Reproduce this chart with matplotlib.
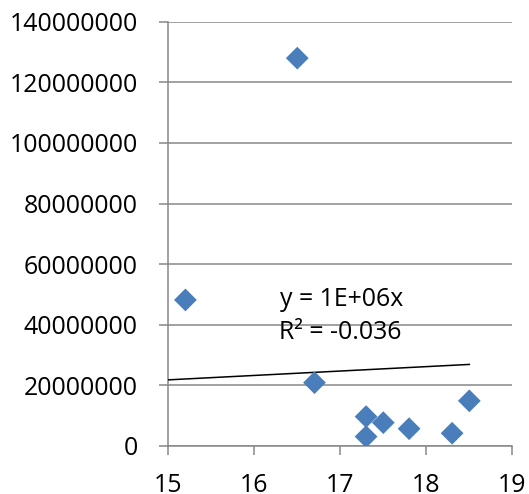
import numpy as np
import matplotlib
matplotlib.use("Agg")
import matplotlib.pyplot as plt
from matplotlib.ticker import FixedLocator

plt.rcParams['font.family'] = ['Open Sans', 'DejaVu Sans']

# Observations
x_vals = [16.5, 15.2, 16.7, 17.3, 17.3, 17.5, 17.8, 18.3, 18.5]
y_vals = [128000000, 48200000, 20900000, 9700000, 3100000, 7700000, 5700000, 4200000, 14900000]

x_ticks = [15, 16, 17, 18, 19]
y_ticks = [0, 20000000, 40000000, 60000000, 80000000, 100000000, 120000000, 140000000]

# Linear trend forced through the origin
trend_slope = 1.455e6
trend_x = [15, 18.5]
eq_label = "y = 1E+06x"
r2_label = "R² = -0.036"

x = np.array(x_vals, dtype=float)
y = np.array(y_vals, dtype=float)

fig = plt.figure(figsize=(5.29, 4.94), dpi=100)
ax = fig.add_axes([0.318, 0.0972, 0.6505, 0.8587])

grid_color = '#878787'
font_size = 17.9
ax.set_xlim(15, 19)
ax.set_ylim(0, 140000000)
ax.yaxis.set_major_locator(FixedLocator(y_ticks))
ax.xaxis.set_major_locator(FixedLocator(x_ticks))
ax.set_yticklabels([str(v) for v in y_ticks])
ax.set_xticklabels([str(v) for v in x_ticks])

ax.grid(axis='y', color=grid_color, linewidth=1.1, zorder=0)
for side in ('top', 'right'):
    ax.spines[side].set_visible(False)
for side in ('left', 'bottom'):
    ax.spines[side].set_color(grid_color)
    ax.spines[side].set_linewidth(1.1)

ax.tick_params(axis='both', colors=grid_color, labelcolor='black',
               labelsize=font_size, width=1.1, length=6.5)
ax.tick_params(axis='y', pad=15.5)
ax.tick_params(axis='x', pad=13)

# Trendline
tx = np.array(trend_x, dtype=float)
ax.plot(tx, trend_slope * tx, color='black', linewidth=1.1, zorder=3)

ax.scatter(x, y, marker='D', s=11.6 ** 2, color='#4A7EBB', edgecolors='none', zorder=4)

ax.text(16.30, 46300000, eq_label, fontsize=font_size, va='baseline', ha='left')
ax.text(16.29, 35200000, r2_label, fontsize=font_size, va='baseline', ha='left')

fig.savefig('out.png', dpi=100)
